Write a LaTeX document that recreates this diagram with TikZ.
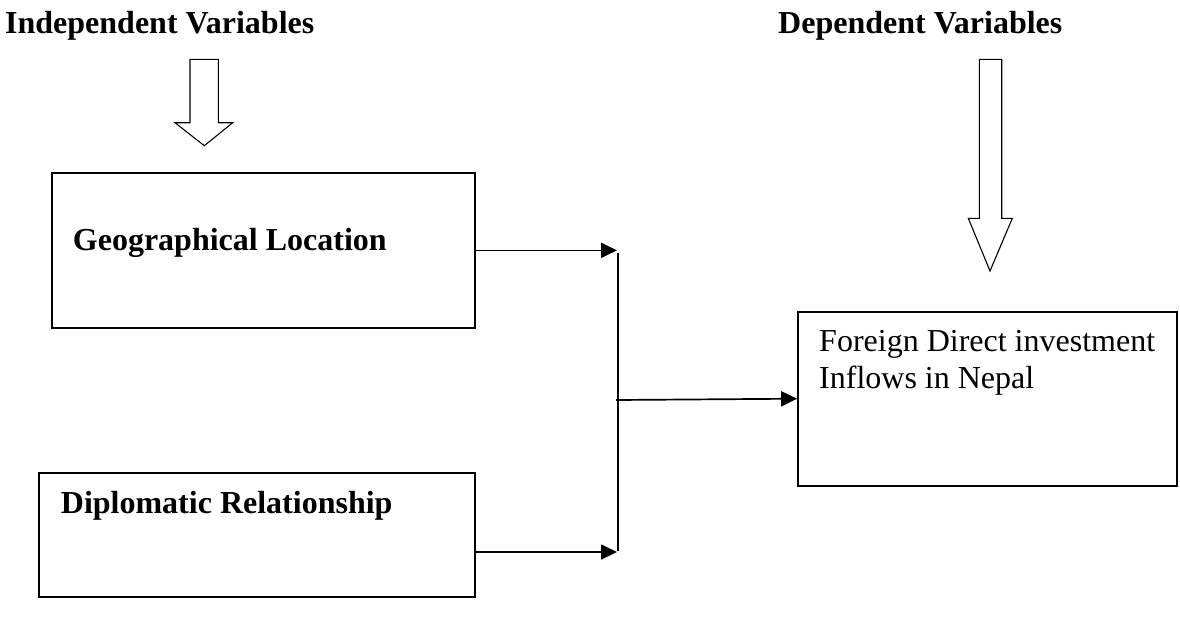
\documentclass[tikz,border=0pt]{standalone}
\usepackage{fontspec}
\setmainfont{Liberation Serif}
\usetikzlibrary{arrows.meta}
\begin{document}
\begin{tikzpicture}[x=1pt,y=-1pt,
  box/.style={draw, line width=1.7pt, inner sep=0pt, minimum width=#1},
  lbl/.style={inner sep=0pt, anchor=base west, font=\fontsize{32}{36.6}\selectfont},
  blbl/.style={lbl, font=\fontsize{32}{36.6}\selectfont\bfseries},
  arr/.style={line width=1.7pt, -{Triangle[length=16pt,width=15pt]}},
  hollow/.style={draw, line width=1.1pt, line join=miter, fill=white}]
\useasboundingbox (0,0) rectangle (1180,622);

% headers
\node[blbl] (indep) at (5,33) {Independent Variables};
\node[blbl] (dep) at (778,33) {Dependent Variables};

% hollow arrows
\draw[hollow] (190,59.3) -- (218.3,59.3) -- (218.3,122.7) -- (232.7,122.7) -- (204.3,145.7) -- (175,122.7) -- (190,122.7) -- cycle;
\draw[hollow] (979.3,59.3) -- (1001.7,59.3) -- (1001.7,218.3) -- (1012.3,218.3) -- (990,271) -- (968.3,218.3) -- (979.3,218.3) -- cycle;

% boxes
\node[box=423.3pt, minimum height=155.3pt] (geo) at (263.35,250.35) {};
\node[box=435.7pt, minimum height=124.3pt] (dip) at (257.15,534.85) {};
\node[box=379pt, minimum height=174pt] (fdi) at (987.5,398.7) {};

% texts
\node[blbl] (geot) at (72.7,250.7) {Geographical Location};
\node[blbl] (dipt) at (60.7,513.3) {Diplomatic Relationship};
\node[lbl] (fdit1) at (819,351.7) {Foreign Direct investment};
\node[lbl] (fdit2) at (819,388.3) {Inflows in Nepal};

% connectors
\coordinate (jtop) at (618,253);
\coordinate (jbot) at (618,551);
\coordinate (jmid) at (616,400);
\coordinate (t1) at (617,250.35);
\coordinate (t2) at (617,552);
\draw[line width=1.7pt] (jtop) -- (jbot);
\draw[arr] (geo.east) -- (t1);
\draw[arr] (dip.east |- t2) -- (t2);
\draw[arr] (jmid) -- (fdi.west);
\end{tikzpicture}
\end{document}
